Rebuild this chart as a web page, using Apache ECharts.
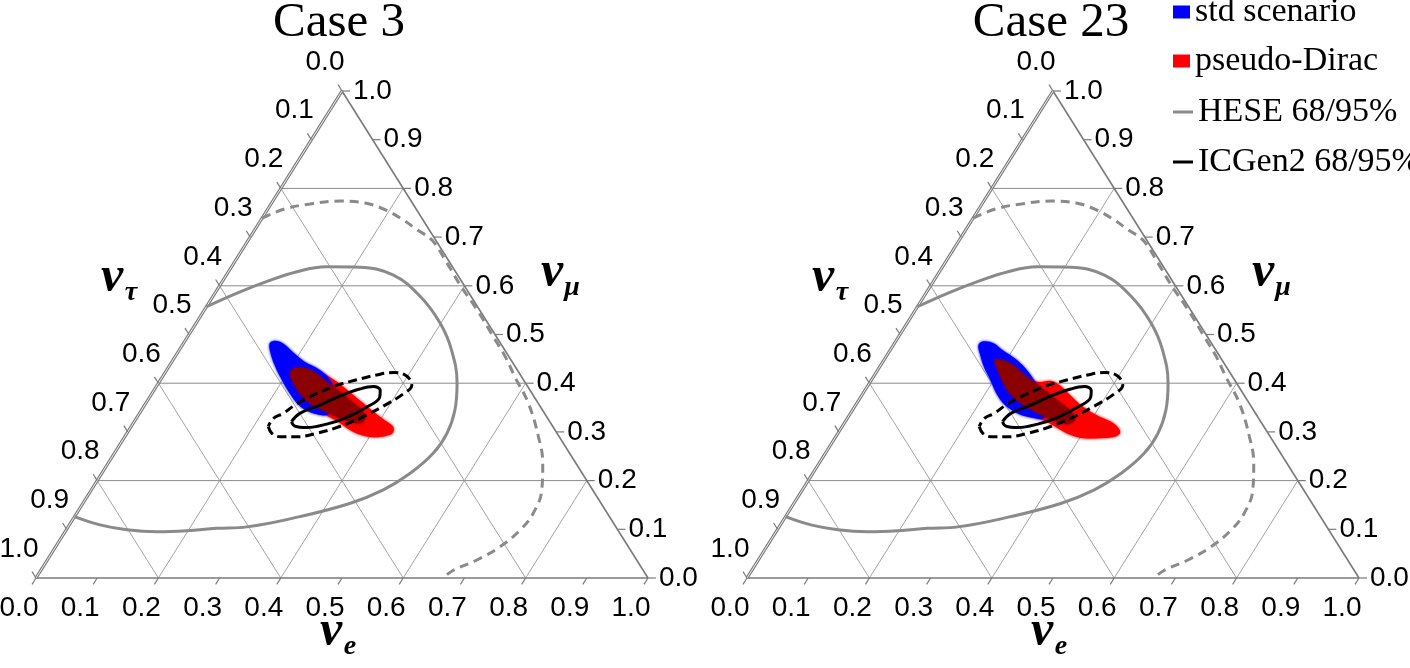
<!DOCTYPE html>
<html><head><meta charset="utf-8">
<script src="https://cdn.jsdelivr.net/npm/echarts@6/dist/echarts.min.js"></script>
<style>html,body{margin:0;padding:0;background:#fff}#c{width:1410px;height:668px}</style>
</head><body><div id="c"></div>
<script>
// ---------- data (ternary coordinates: [nu_e fraction, nu_mu fraction]) ----------
const tickValues = [0, 0.1, 0.2, 0.3, 0.4, 0.5, 0.6, 0.7, 0.8, 0.9, 1.0];
const tickLabels = ['0.0','0.1','0.2','0.3','0.4','0.5','0.6','0.7','0.8','0.9','1.0'];
const gridValues = [0.2, 0.4, 0.6, 0.8];
const panelTitles = ['Case 3', 'Case 23'];
const legendNames = ['std scenario', 'pseudo-Dirac', 'HESE 68/95%', 'ICGen2 68/95%'];

const hese68 = [[0,0.557],[0.036,0.585],[0.073,0.609],[0.112,0.629],[0.155,0.639],[0.210,0.638],[0.273,0.622],[0.339,0.578],[0.399,0.523],[0.445,0.468],[0.488,0.400],[0.512,0.345],[0.523,0.297],[0.521,0.256],[0.504,0.215],[0.477,0.181],[0.436,0.153],[0.368,0.126],[0.292,0.105],[0.244,0.102],[0.198,0.097],[0.150,0.095],[0.099,0.099],[0.050,0.109],[0,0.126]];
const hese95 = [[0,0.739],[0.028,0.758],[0.064,0.768],[0.110,0.774],[0.153,0.770],[0.193,0.756],[0.233,0.735],[0.265,0.715],[0.300,0.694],[0.345,0.650],[0.394,0.600],[0.446,0.550],[0.500,0.495],[0.540,0.454],[0.576,0.413],[0.625,0.359],[0.676,0.290],[0.710,0.236],[0.736,0.181],[0.746,0.133],[0.742,0.099],[0.726,0.064],[0.702,0.037],[0.674,0.016],[0.665,0.0]];
const icgen68 = [[0.257,0.321],[0.262,0.338],[0.286,0.355],[0.310,0.374],[0.335,0.388],[0.355,0.393],[0.370,0.385],[0.376,0.371],[0.365,0.351],[0.343,0.330],[0.317,0.316],[0.288,0.309],[0.267,0.312],[0.257,0.321]];
const icgen95 = [[0.224,0.311],[0.237,0.297],[0.254,0.290],[0.281,0.290],[0.310,0.297],[0.337,0.309],[0.365,0.328],[0.391,0.353],[0.411,0.378],[0.416,0.396],[0.398,0.415],[0.373,0.422],[0.348,0.417],[0.321,0.407],[0.289,0.393],[0.258,0.369],[0.244,0.353],[0.235,0.338],[0.224,0.328],[0.224,0.311]];

const std3 = [[0.141,0.481],[0.147,0.487],[0.164,0.481],[0.189,0.463],[0.217,0.444],[0.247,0.429],[0.273,0.410],[0.297,0.383],[0.310,0.352],[0.308,0.335],[0.291,0.336],[0.266,0.346],[0.247,0.359],[0.221,0.383],[0.198,0.407],[0.174,0.434],[0.155,0.458]];
const pd3 = [[0.200,0.431],[0.220,0.434],[0.256,0.422],[0.278,0.410],[0.301,0.396],[0.326,0.379],[0.351,0.362],[0.380,0.342],[0.408,0.324],[0.428,0.311],[0.434,0.299],[0.427,0.292],[0.407,0.289],[0.383,0.294],[0.361,0.304],[0.338,0.318],[0.315,0.330],[0.286,0.345],[0.254,0.366],[0.224,0.393],[0.204,0.417]];
const both3 = [[0.204,0.429],[0.222,0.431],[0.248,0.420],[0.273,0.403],[0.302,0.385],[0.335,0.362],[0.360,0.345],[0.374,0.328],[0.371,0.318],[0.353,0.321],[0.326,0.331],[0.298,0.344],[0.268,0.359],[0.242,0.379],[0.221,0.400],[0.207,0.417]];

const std23 = [[0.139,0.478],[0.143,0.486],[0.162,0.482],[0.185,0.467],[0.212,0.451],[0.239,0.431],[0.264,0.408],[0.289,0.379],[0.316,0.349],[0.320,0.328],[0.297,0.330],[0.271,0.339],[0.244,0.355],[0.218,0.379],[0.194,0.407],[0.170,0.434],[0.152,0.458]];
const pd23 = [[0.182,0.451],[0.206,0.448],[0.247,0.420],[0.272,0.403],[0.293,0.405],[0.313,0.396],[0.340,0.376],[0.374,0.351],[0.411,0.331],[0.440,0.318],[0.460,0.300],[0.456,0.290],[0.433,0.287],[0.406,0.287],[0.381,0.294],[0.355,0.307],[0.329,0.321],[0.288,0.338],[0.247,0.366],[0.214,0.400],[0.190,0.431]];
const both23 = [[0.181,0.448],[0.209,0.441],[0.250,0.413],[0.287,0.390],[0.323,0.366],[0.356,0.344],[0.373,0.326],[0.367,0.316],[0.342,0.323],[0.310,0.337],[0.274,0.355],[0.240,0.379],[0.213,0.407],[0.193,0.431]];

const blobs = [
  { std: std3, pd: pd3, both: both3 },
  { std: std23, pd: pd23, both: both23 }
];

// ---------- helpers ----------
const tern = p => [p[0] + p[1] / 2, p[1]];   // (nu_e, nu_mu) -> cartesian data units
const SANS = '"Liberation Sans", Arial, sans-serif';
const SERIF = '"Liberation Serif", "Times New Roman", serif';
const TICK = 0.013;

function segments() {
  const s = [];
  const add = (a, b, k) => { const A = tern(a), B = tern(b); s.push([A[0], A[1], B[0], B[1], k]); };
  gridValues.forEach(v => {
    add([0, v], [1 - v, v], 0);          // constant nu_mu
    add([v, 0], [v, 1 - v], 1);          // constant nu_e
    add([0, 1 - v], [1 - v, 0], 1);      // constant nu_tau
  });
  add([0, 0], [1, 0], 2);
  add([1, 0], [0, 1], 2);
  add([0, 1], [0, 0], 3);
  tickValues.forEach(v => {
    add([v, 0], [v, -TICK], 4);
    add([1 - v, v], [1 - v + TICK, v], 4);
    add([0, 1 - v], [-TICK, 1 - v + TICK], 4);
  });
  return s;
}
const segStyle = [
  { c: '#8a8a8a', w: 1 },
  { c: '#8a8a8a', w: 0.8 },
  { c: '#7a7a7a', w: 1.6 },
  { c: '#7a7a7a', w: 1.6 },
  { c: '#7a7a7a', w: 1.2 }
];
function labelData() {
  const d = [];
  tickValues.forEach((v, i) => {
    let p = tern([v, 0]); d.push([p[0], p[1], i, 0]);
    p = tern([1 - v, v]); d.push([p[0], p[1], i, 1]);
    p = tern([0, 1 - v]); d.push([p[0], p[1], i, 2]);
  });
  return d;
}
const labelOff = [[-17, 30, 'center'], [11, 0, 'left'], [-17, -29, 'center']];

const series = [];
[0, 1].forEach(gi => {
  series.push({
    type: 'custom', xAxisIndex: gi, yAxisIndex: gi, silent: true, z: 1, clip: false,
    data: segments(),
    renderItem: (params, api) => {
      const a = api.coord([api.value(0), api.value(1)]);
      const b = api.coord([api.value(2), api.value(3)]);
      const k = api.value(4);
      const st = segStyle[k];
      const shape = { x1: a[0], y1: a[1], x2: b[0], y2: b[1] };
      if (k === 3) {
        return { type: 'group', children: [
          { type: 'line', shape, style: { stroke: '#7a7a7a', lineWidth: 3.2 } },
          { type: 'line', shape, style: { stroke: '#ffffff', lineWidth: 0.9 } }
        ]};
      }
      return { type: 'line', shape, style: { stroke: st.c, lineWidth: st.w } };
    }
  });
  series.push({
    type: 'custom', xAxisIndex: gi, yAxisIndex: gi, silent: true, z: 2, clip: false,
    data: labelData(),
    renderItem: (params, api) => {
      const p = api.coord([api.value(0), api.value(1)]);
      const o = labelOff[api.value(3)];
      return { type: 'text', x: p[0] + o[0], y: p[1] + o[1],
        style: { text: tickLabels[api.value(2)], font: '28px ' + SANS, fill: '#000', align: o[2], verticalAlign: 'middle' } };
    }
  });
  const poly = (name, pts, color, z) => ({
    type: 'custom', name, xAxisIndex: gi, yAxisIndex: gi, silent: true, z, clip: false,
    itemStyle: { color }, data: [[0.5, 0.5]],
    renderItem: (params, api) => ({
      type: 'polygon',
      shape: { points: pts.map(p => api.coord(tern(p))), smooth: 0.35 },
      style: { fill: color, shadowBlur: 3, shadowColor: color }
    })
  });
  series.push(poly(legendNames[1], blobs[gi].pd, '#ff0000', 5));
  series.push(poly(legendNames[0], blobs[gi].std, '#0000ff', 6));
  series.push(poly('overlap', blobs[gi].both, '#8b0000', 7));
  const line = (name, pts, color, width, type, z) => ({
    type: 'line', name, xAxisIndex: gi, yAxisIndex: gi, z, silent: true, clip: false,
    data: pts.map(tern), symbol: 'none', smooth: 0.4,
    lineStyle: { color, width, type }, itemStyle: { color }
  });
  series.push(line(legendNames[2], hese68, '#8a8a8a', 3, 'solid', 4));
  series.push(line(legendNames[2], hese95, '#8a8a8a', 3, [9, 6], 4));
  series.push(line(legendNames[3], icgen68, '#000000', 3, 'solid', 8));
  series.push(line(legendNames[3], icgen95, '#000000', 3, [9, 5], 8));
});

const legendText = { fontFamily: SERIF, fontSize: 34, color: '#000', lineHeight: 34 };
const legendTops = [-5, 44, 95, 145];
const legends = legendNames.map((n, i) => ({
  left: 1173, top: legendTops[i], padding: 0, orient: 'vertical', selectedMode: false,
  itemWidth: i < 2 ? 17 : 20, itemHeight: i < 2 ? 13 : 3, icon: 'rect',
  itemStyle: { borderWidth: 0 },
  data: [n], textStyle: legendText
}));

const nuRich = (x, y, main, sub, sx, sy) => ([
  { type: 'text', x, y, style: { text: 'ν', font: 'italic bold 50px ' + SERIF, fill: '#000', align: 'center', verticalAlign: 'middle' } },
  { type: 'text', x: sx, y: sy, style: { text: sub, font: 'italic bold 28px ' + SERIF, fill: '#000', align: 'center', verticalAlign: 'middle' } }
]);
const graphics = [];
[0, 711].forEach(dx => {
  graphics.push(...nuRich(112 + dx, 278, 'ν', 'τ', 131 + dx, 293));
  graphics.push(...nuRich(552 + dx, 273, 'ν', 'μ', 572 + dx, 288));
  graphics.push(...nuRich(331 + dx, 632, 'ν', 'e', 350 + dx, 647));
});

const chart = echarts.init(document.getElementById('c'), null, { renderer: 'canvas' });
chart.setOption({
  animation: false,
  backgroundColor: '#fff',
  title: panelTitles.map((t, i) => ({
    text: t, left: i === 0 ? 339 : 1051, top: 23, padding: 0, textAlign: 'center', textVerticalAlign: 'middle',
    textStyle: { fontFamily: SERIF, fontSize: 49, fontWeight: 'normal', color: '#000' }
  })),
  legend: legends,
  grid: [
    { left: 36, top: 91, width: 612, height: 487 },
    { left: 747, top: 91, width: 612, height: 487 }
  ],
  xAxis: [0, 1].map(g => ({ gridIndex: g, type: 'value', min: 0, max: 1, show: false })),
  yAxis: [0, 1].map(g => ({ gridIndex: g, type: 'value', min: 0, max: 1, show: false })),
  series,
  graphic: graphics
});
</script></body></html>
